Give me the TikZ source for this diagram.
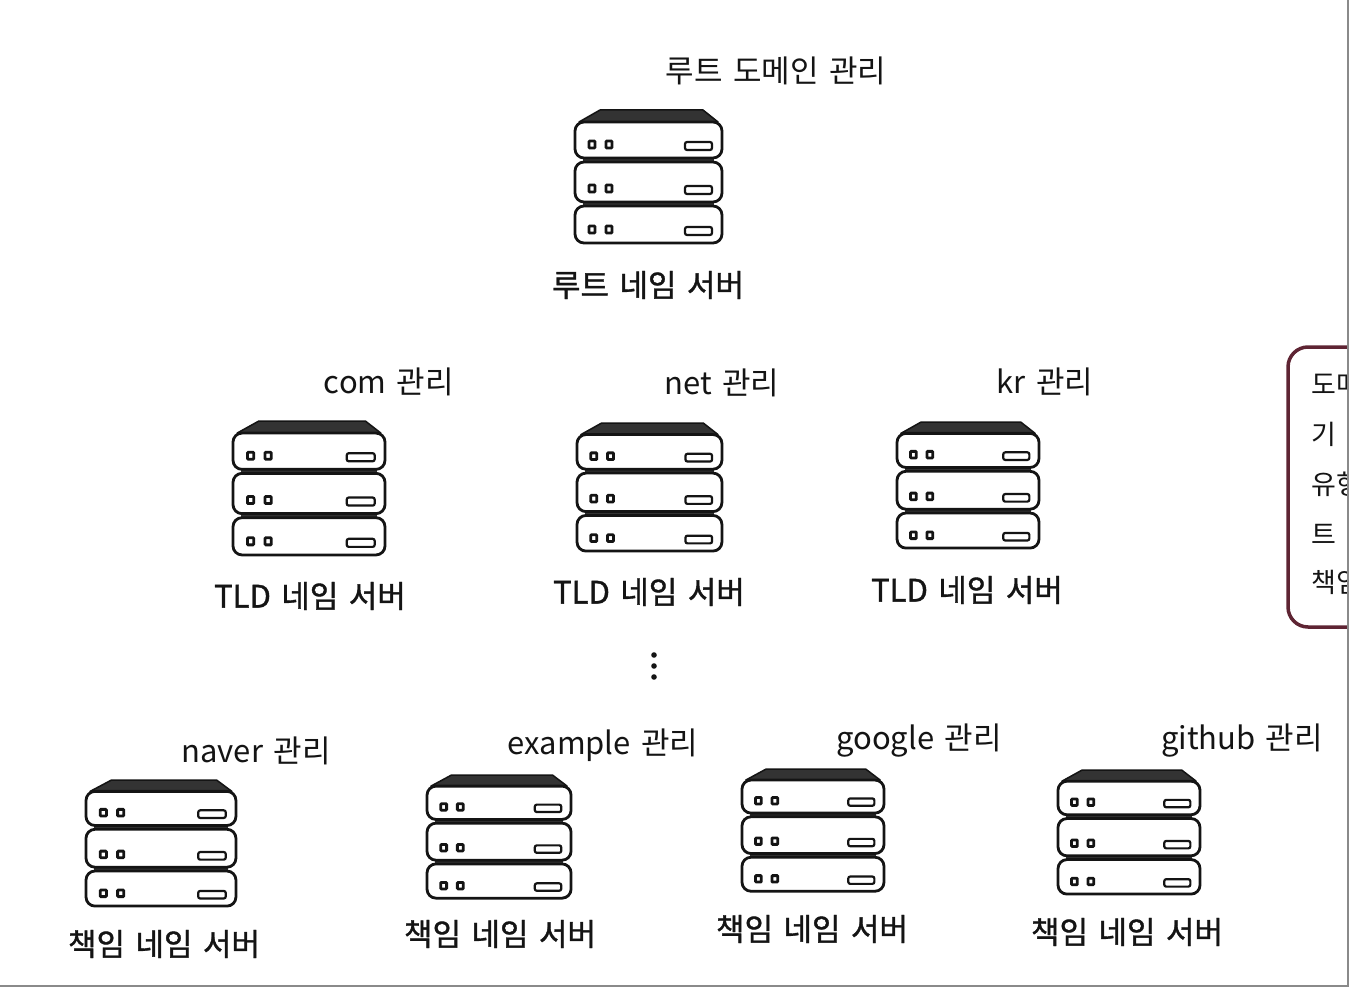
\documentclass[tikz,border=0pt]{standalone}
\usepackage{fontspec}
\setmainfont{Noto Sans CJK KR}
\newfontfamily\dutyfont[WordSpace=1.5]{Noto Sans CJK KR}
\newfontfamily\serverfont[WordSpace=1.5,FakeBold=1.2]{Noto Sans CJK KR}
\usepackage{tikz}
\usetikzlibrary{positioning}
\definecolor{ink}{HTML}{141414}
\definecolor{stripe}{HTML}{333333}
\definecolor{maroon}{HTML}{5E2433}
\definecolor{edge}{HTML}{8A8A8A}
\tikzset{
  dutylabel/.style={font=\dutyfont\fontsize{31}{34}\selectfont,text=ink,inner sep=0pt},
  serverlabel/.style={font=\serverfont\fontsize{31}{34}\selectfont,text=ink,inner sep=0pt},
  notelabel/.style={font=\fontsize{27}{32}\selectfont,text=ink,inner sep=0pt,anchor=west},
  pics/serverstack/.style={code={
    \fill[stripe,draw=ink,line width=1.5pt,line join=round] (4,12) -- (25,0) -- (128,0) -- (143,12) -- cycle;
    \foreach \ytop/\ybot in {52/92,96/133}
      \fill[stripe] (8,\ytop-6) rectangle (139,\ytop+2);
    \foreach \ytop/\ybot in {12/48,52/92,96/133} {
      \draw[draw=ink,fill=white,line width=2.8pt,rounded corners=9pt] (0,\ytop) rectangle (147,\ybot);
      \draw[ink,line width=2.8pt,rounded corners=.8pt] (14,\ybot-17) rectangle (20,\ybot-10);
      \draw[ink,line width=2.8pt,rounded corners=.8pt] (31,\ybot-17) rectangle (37,\ybot-10);
      \draw[ink,line width=2.2pt,rounded corners=2pt] (110,\ybot-16) rectangle (137,\ybot-8);
    }
  }}
}
\begin{document}
\begin{tikzpicture}[x=1pt,y=-1pt]
  \useasboundingbox (0,0) rectangle (1349,987);
  % server stacks: left, top, xscale, yscale
  \foreach \sx/\sy/\sw/\sh in {575/110/1/1,233/421/1.034/1.007,577/423/.986/.963,897/422/.966/.948,
    86/780/1.02/.948,427/775/.98/.926,742/769/.966/.919,1058/770/.966/.933}
    \pic[xscale=\sw,yscale=\sh] at (\sx,\sy) {serverstack};
  % root
  \node[dutylabel] (rootduty) at (776,71) {루트 도메인 관리};
  \node[serverlabel] (rootname) at (648,285) {루트 네임 서버};
  % tld
  \node[dutylabel] (comduty) at (389,382) {com 관리};
  \node[dutylabel] (netduty) at (722,383) {net 관리};
  \node[dutylabel] (krduty) at (1045,382) {kr 관리};
  \node[serverlabel] (comname) at (310,596) {TLD 네임 서버};
  \node[serverlabel] (netname) at (649,592) {TLD 네임 서버};
  \node[serverlabel] (krname) at (967,590) {TLD 네임 서버};
  % dots
  \foreach \dy in {655,666,677}
    \fill[ink] (654,\dy) circle (2.8pt);
  % authoritative
  \node[dutylabel] (naverduty) at (256,751) {naver 관리};
  \node[dutylabel] (exampleduty) at (603,745) {example 관리};
  \node[dutylabel] (googleduty) at (919,741) {google 관리};
  \node[dutylabel] (githubduty) at (1242,741) {github 관리};
  \node[serverlabel] (navername) at (164,944) {책임 네임 서버};
  \node[serverlabel] (examplename) at (500,934) {책임 네임 서버};
  \node[serverlabel] (googlename) at (812,929) {책임 네임 서버};
  \node[serverlabel] (githubname) at (1127,932) {책임 네임 서버};
  % note box, cut by the page edge
  \begin{scope}
    \clip (1270,330) rectangle (1347,640);
    \draw[maroon,line width=3.5pt,rounded corners=20pt] (1288,347) rectangle (1400,627);
    \node[notelabel] (noteone) at (1311,384) {도메};
    \node[notelabel] (notetwo) at (1311,434) {기};
    \node[notelabel] (notethree) at (1311,484) {유형};
    \node[notelabel] (notefour) at (1311,534) {트};
    \node[notelabel] (notefive) at (1311,582) {책임};
  \end{scope}
  \draw[edge,line width=2pt] (1348,0) -- (1348,986) -- (0,986);
\end{tikzpicture}
\end{document}
